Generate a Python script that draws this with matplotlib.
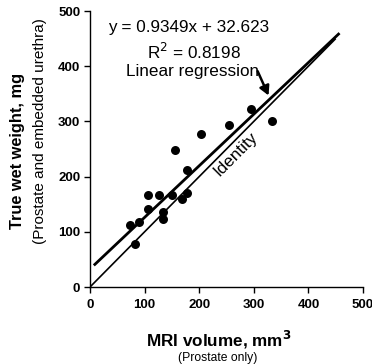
import matplotlib
matplotlib.use("Agg")
import matplotlib.pyplot as plt
import numpy as np

plt.rcParams['font.family'] = ['Liberation Sans', 'DejaVu Sans']

mri_volume = [74, 89, 82, 107, 107, 127, 133, 134, 151, 156, 168, 177, 177, 204, 255, 294, 333]
wet_weight = [113, 117, 78, 142, 167, 167, 136, 123, 167, 248, 160, 170, 212, 277, 293, 322, 301]
slope = 0.9349
intercept = 32.623
reg_range = [7, 457]
identity_range = [0, 450]
ticks = [0, 100, 200, 300, 400, 500]

fig = plt.figure(figsize=(3.72, 3.64), dpi=100)
ax = fig.add_axes([90/372, 1-287/364, (363-90)/372, (287-11)/364])

ax.scatter(mri_volume, wet_weight, s=42, color='black', zorder=3, linewidths=0)
xr = np.array(reg_range, dtype=float)
ax.plot(xr, slope*xr + intercept, color='black', lw=2.0, solid_capstyle='butt')
xi = np.array(identity_range, dtype=float)
ax.plot(xi, xi, color='black', lw=1.2, solid_capstyle='butt')

ax.set_xlim(0, 500)
ax.set_ylim(0, 500)
ax.set_xticks(ticks)
ax.set_yticks(ticks)
ax.tick_params(direction='out', length=4, width=1, labelsize=9.5)
ax.tick_params(axis='x', pad=5)
ax.tick_params(axis='y', pad=3)
for lab in ax.get_xticklabels() + ax.get_yticklabels():
    lab.set_fontweight('bold')
for s in ['top', 'right']:
    ax.spines[s].set_visible(False)
for s in ['left', 'bottom']:
    ax.spines[s].set_linewidth(1)

ax.text(181, 471, 'y = 0.9349x + 32.623', ha='center', va='center', fontsize=12.3)
ax.text(190, 426, 'R$^2$ = 0.8198', ha='center', va='center', fontsize=12.3)
ax.text(188, 390, 'Linear regression', ha='center', va='center', fontsize=12.3)
ax.annotate('', xy=(327, 347), xytext=(307, 391),
            arrowprops=dict(arrowstyle='-|>,head_length=0.55,head_width=0.3', color='black', lw=1.8, shrinkA=0, shrinkB=0))
ax.text(266, 240, 'Identity', ha='center', va='center', fontsize=12.3, rotation=45,
        rotation_mode='anchor')

fig.text(219/372, 1-340/364, 'MRI volume, mm$^\\mathbf{3}$', ha='center', va='center', fontsize=12.3, fontweight='bold')
fig.text(218/372, 1-358.5/364, '(Prostate only)', ha='center', va='center', fontsize=8.7)
fig.text(18/372, 1-151/364, 'True wet weight, mg', ha='center', va='center', fontsize=11.8, fontweight='bold', rotation=90)
fig.text(40/372, 1-131/364, '(Prostate and embedded urethra)', ha='center', va='center', fontsize=11, rotation=90)

fig.savefig('out.png', dpi=100)
